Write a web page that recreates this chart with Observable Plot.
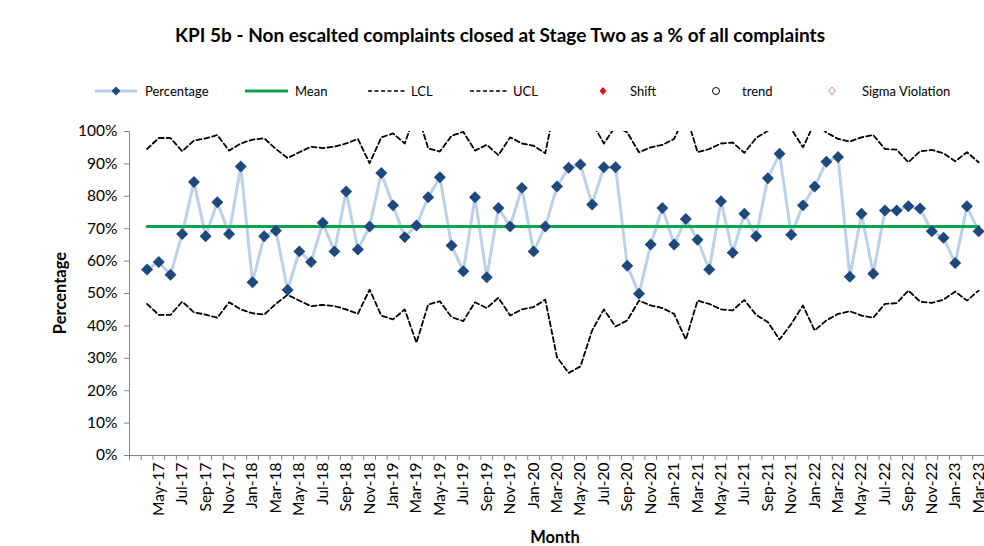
<!DOCTYPE html>
<html><head><meta charset="utf-8">
<script src="https://cdn.jsdelivr.net/npm/d3@7"></script>
<script src="https://cdn.jsdelivr.net/npm/@observablehq/plot@0.6"></script>
<style>
body{margin:0;background:#fff;font-family:Lato,"Liberation Sans",sans-serif;}
#wrap{position:relative;width:984px;height:546px;overflow:hidden;background:#fff;}
#chart{position:absolute;left:0;top:0;}
#title{position:absolute;left:0;width:1000px;top:24px;line-height:22px;text-align:center;font-weight:bold;font-size:19px;color:#000;}
#legend{position:absolute;left:0;top:80px;}
.axt{position:absolute;font-weight:bold;font-size:16.5px;color:#000;white-space:nowrap;}
</style></head><body>
<div id="wrap">
  <div id="chart"></div>
  <div id="title">KPI 5b - Non escalted complaints closed at Stage Two as a % of all complaints</div>
  <svg id="legend" width="984" height="24"></svg>
  <div class="axt" style="left:60px;top:293px;transform:translate(-50%,-50%) rotate(-90deg);">Percentage</div>
  <div class="axt" style="left:555px;top:537px;transform:translate(-50%,-50%);">Month</div>
</div>
<script>
const months = ["Apr-17","May-17","Jun-17","Jul-17","Aug-17","Sep-17","Oct-17","Nov-17","Dec-17",
"Jan-18","Feb-18","Mar-18","Apr-18","May-18","Jun-18","Jul-18","Aug-18","Sep-18","Oct-18","Nov-18","Dec-18",
"Jan-19","Feb-19","Mar-19","Apr-19","May-19","Jun-19","Jul-19","Aug-19","Sep-19","Oct-19","Nov-19","Dec-19",
"Jan-20","Feb-20","Mar-20","Apr-20","May-20","Jun-20","Jul-20","Aug-20","Sep-20","Oct-20","Nov-20","Dec-20",
"Jan-21","Feb-21","Mar-21","Apr-21","May-21","Jun-21","Jul-21","Aug-21","Sep-21","Oct-21","Nov-21","Dec-21",
"Jan-22","Feb-22","Mar-22","Apr-22","May-22","Jun-22","Jul-22","Aug-22","Sep-22","Oct-22","Nov-22","Dec-22",
"Jan-23","Feb-23","Mar-23"];
const percentage = [57.4,59.7,55.8,68.4,84.4,67.7,78.2,68.4,89.2,53.5,
67.7,69.4,51.1,63.0,59.7,71.8,63.0,81.5,63.6,70.7,
87.2,77.2,67.4,71.0,79.7,85.9,64.8,56.9,79.7,55.0,
76.4,70.7,82.6,63.0,70.7,83.0,88.8,89.8,77.5,89.0,
89.0,58.6,49.9,65.1,76.4,65.1,73.0,66.6,57.4,78.5,
62.6,74.6,67.7,85.6,93.1,68.1,77.2,83.0,90.7,92.1,
55.2,74.6,56.1,75.6,75.6,76.9,76.2,69.2,67.2,59.4,
76.9,69.2];
const lcl = [46.8,43.4,43.4,47.5,44.2,43.5,42.5,47.3,45.1,43.9,
43.5,46.8,49.6,47.8,46.1,46.5,46.1,45.1,43.7,51.2,
43.2,42.0,45.1,34.8,46.6,47.6,42.7,41.5,47.3,45.5,
48.7,43.2,45.1,45.8,48.1,30.3,25.5,27.5,38.6,45.1,
39.8,41.7,47.8,46.3,45.5,43.7,35.8,47.8,46.8,45.1,
44.8,48.0,43.4,41.2,35.8,40.6,46.3,38.6,41.7,43.7,
44.5,43.2,42.5,46.8,47.0,50.9,47.5,47.1,48.1,50.6,
47.8,50.9];
const ucl = [94.6,98.0,98.0,93.9,97.2,97.9,98.9,94.1,96.3,97.5,
97.9,94.6,91.8,93.6,95.3,94.9,95.3,96.3,97.7,90.2,
98.2,99.4,96.3,106.6,94.8,93.8,98.7,99.9,94.1,95.9,
92.7,98.2,96.3,95.6,93.3,111.1,115.9,113.9,102.8,96.3,
101.6,99.7,93.6,95.1,95.9,97.7,105.6,93.6,94.6,96.3,
96.6,93.4,98.0,100.2,105.6,100.8,95.1,102.8,99.7,97.7,
96.9,98.2,98.9,94.6,94.4,90.5,93.9,94.3,93.3,90.8,
93.6,90.5];
const meanValue = 70.7;
const yTicks = [0,10,20,30,40,50,60,70,80,90,100];

// category index 0 is an empty leading category; months occupy 1..72
const rows = months.map((m, i) => ({idx: i + 1, month: m, pct: percentage[i], lcl: lcl[i], ucl: ucl[i], mean: meanValue}));
const nCats = months.length + 1;
const boundaries = d3.range(0, nCats + 1).map(i => i - 0.5);
const labelIdx = rows.filter(r => r.idx % 2 === 0).map(r => r.idx);

const axisGray = "#868686";
const chart = Plot.plot({
  width: 984, height: 546,
  marginLeft: 129, marginRight: 0, marginTop: 131, marginBottom: 91,
  style: {fontFamily: "Lato, 'Liberation Sans', sans-serif", background: "transparent", color: "#000", overflow: "visible"},
  x: {type: "linear", domain: [-0.5, nCats - 0.5]},
  y: {domain: [0, 100]},
  marks: [
    Plot.axisY({ticks: yTicks, tickSize: 5, tickFormat: () => "", stroke: axisGray, label: null}),
    Plot.axisY({ticks: yTicks, tickSize: 0, tickPadding: 12, tickFormat: d => d + "%", fontSize: 15.5, fill: "#000", label: null}),
    Plot.axisX({ticks: boundaries, tickSize: 5, tickFormat: () => "", stroke: axisGray, label: null}),
    Plot.axisX({ticks: labelIdx, tickSize: 0, tickPadding: 7, tickRotate: -90, tickFormat: i => months[i - 1], fontSize: 15.5, fill: "#000", label: null}),
    Plot.ruleY([0], {stroke: axisGray}),
    Plot.ruleX([-0.5], {y1: 0, y2: 100, stroke: axisGray}),
    Plot.lineY(rows, {x: "idx", y: "pct", stroke: "#bcd0e8", strokeWidth: 3}),
    Plot.lineY(rows, {x: "idx", y: "mean", stroke: "#10a24f", strokeWidth: 3}),
    Plot.lineY(rows, {x: "idx", y: "lcl", stroke: "#000", strokeWidth: 1.8, strokeDasharray: "5,3", clip: true}),
    Plot.lineY(rows, {x: "idx", y: "ucl", stroke: "#000", strokeWidth: 1.8, strokeDasharray: "5,3", clip: true}),
    Plot.dot(rows, {x: "idx", y: "pct", symbol: "diamond2", r: 5.4, fill: "#1f497d", stroke: "none"})
  ]
});
document.getElementById("chart").appendChild(chart);

// legend
const leg = d3.select("#legend");
const cy = 11;
const items = [
  {label: "Percentage", tx: 145},
  {label: "Mean", tx: 295},
  {label: "LCL", tx: 411},
  {label: "UCL", tx: 513},
  {label: "Shift", tx: 630},
  {label: "trend", tx: 742},
  {label: "Sigma Violation", tx: 862}
];
leg.append("line").attr("x1", 95).attr("x2", 137).attr("y1", cy).attr("y2", cy).attr("stroke", "#bcd0e8").attr("stroke-width", 3);
leg.append("path").attr("d", `M116,${cy-4.5}L120.5,${cy}L116,${cy+4.5}L111.5,${cy}Z`).attr("fill", "#1f497d");
leg.append("line").attr("x1", 245).attr("x2", 288).attr("y1", cy).attr("y2", cy).attr("stroke", "#10a24f").attr("stroke-width", 3);
leg.append("line").attr("x1", 368).attr("x2", 406).attr("y1", cy).attr("y2", cy).attr("stroke", "#000").attr("stroke-width", 1.5).attr("stroke-dasharray", "4,2.5");
leg.append("line").attr("x1", 470).attr("x2", 508).attr("y1", cy).attr("y2", cy).attr("stroke", "#000").attr("stroke-width", 1.5).attr("stroke-dasharray", "4,2.5");
leg.append("path").attr("d", `M603,${cy-4}L606.5,${cy}L603,${cy+4}L599.5,${cy}Z`).attr("fill", "#e0101a");
leg.append("circle").attr("cx", 716).attr("cy", cy).attr("r", 3.5).attr("fill", "none").attr("stroke", "#000").attr("stroke-width", 1);
leg.append("path").attr("d", `M832,${cy-4}L835.5,${cy}L832,${cy+4}L828.5,${cy}Z`).attr("fill", "none").attr("stroke", "#f08a6a").attr("stroke-width", 1);
leg.selectAll("text.lt").data(items).join("text").attr("class", "lt")
  .attr("x", d => d.tx).attr("y", cy).attr("dy", "0.35em")
  .attr("font-size", 13).attr("font-family", "Lato, 'Liberation Sans', sans-serif").attr("fill", "#000")
  .text(d => d.label);
</script>
</body></html>
